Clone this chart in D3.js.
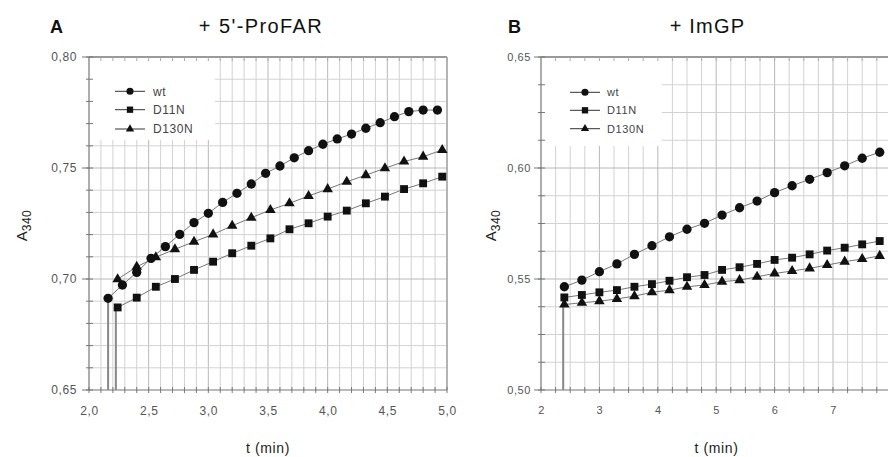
<!DOCTYPE html>
<html><head><meta charset="utf-8">
<script src="https://cdn.jsdelivr.net/npm/d3@7"></script>
<style>
html,body{margin:0;padding:0;background:#fff;}
svg{display:block;font-family:"Liberation Sans", Arial, Helvetica, sans-serif;}
</style></head><body>
<svg id="chart" width="888" height="457"></svg>
<script>
// ---------------- DATA ----------------
const seriesNames = ["wt", "D11N", "D130N"];

// Panel A (+ 5'-ProFAR)
const tA_wt = [2.16, 2.28, 2.40, 2.52, 2.64, 2.76, 2.88, 3.00, 3.12, 3.24, 3.36, 3.48,
               3.60, 3.72, 3.84, 3.96, 4.08, 4.20, 4.32, 4.44, 4.56, 4.68, 4.80, 4.92];
const aA_wt = [0.6913, 0.6973, 0.7030, 0.7093, 0.7146, 0.7201, 0.7254, 0.7296, 0.7345, 0.7386, 0.7428, 0.7476,
               0.7509, 0.7546, 0.7578, 0.7607, 0.7631, 0.7653, 0.7679, 0.7704, 0.7731, 0.7754, 0.7761, 0.7761];
const tA_mut = [2.24, 2.40, 2.56, 2.72, 2.88, 3.04, 3.20, 3.36, 3.52, 3.68, 3.84, 4.00, 4.16, 4.32, 4.48, 4.64, 4.80, 4.96];
const aA_D11N = [0.6872, 0.6916, 0.6965, 0.7000, 0.7041, 0.7078, 0.7116, 0.7150, 0.7183, 0.7224, 0.7251, 0.7281,
                 0.7308, 0.7341, 0.7371, 0.7405, 0.7431, 0.7461];
const aA_D130N = [0.6999, 0.7055, 0.7098, 0.7134, 0.7168, 0.7201, 0.7240, 0.7276, 0.7311, 0.7341, 0.7374, 0.7405,
                  0.7438, 0.7468, 0.7499, 0.7529, 0.7551, 0.7581];
const dropA = [2.16, 2.225, null];   // time where each trace rises from the axis floor
const xTicksA = [2.0, 2.5, 3.0, 3.5, 4.0, 4.5, 5.0];
const yTicksA = [0.65, 0.70, 0.75, 0.80];

// Panel B (+ ImGP)
const tB = [2.40, 2.70, 3.00, 3.30, 3.60, 3.90, 4.20, 4.50, 4.80, 5.10, 5.40, 5.70, 6.00, 6.30, 6.60, 6.90, 7.20, 7.50, 7.80];
const aB_wt = [0.5465, 0.5495, 0.5533, 0.5568, 0.5611, 0.5650, 0.5690, 0.5724, 0.5751, 0.5788, 0.5821, 0.5851,
               0.5889, 0.5920, 0.5949, 0.5979, 0.6010, 0.6044, 0.6071];
const aB_D11N = [0.5417, 0.5428, 0.5440, 0.5450, 0.5465, 0.5477, 0.5492, 0.5508, 0.5518, 0.5541, 0.5553, 0.5568,
                 0.5586, 0.5596, 0.5611, 0.5628, 0.5641, 0.5656, 0.5671];
const aB_D130N = [0.5385, 0.5393, 0.5400, 0.5410, 0.5423, 0.5440, 0.5450, 0.5465, 0.5473, 0.5488, 0.5495, 0.5510,
                  0.5525, 0.5536, 0.5548, 0.5563, 0.5578, 0.5590, 0.5604];
const dropB = [null, 2.38, null];
const xTicksB = [2, 3, 4, 5, 6, 7];
const yTicksB = [0.50, 0.55, 0.60, 0.65];

// ---------------- DRAW ----------------
const loc = d3.formatLocale({decimal: ",", thousands: ".", grouping: [3], currency: ["", ""]});
const svg = d3.select("#chart");
const shapes = [d3.symbolCircle, d3.symbolSquare, d3.symbolTriangle];
const markSize = [68, 62, 48];
const legSize = [40, 40, 30];

function panel(c) {
  const g = svg.append("g");
  const x = d3.scaleLinear().domain(c.xDomain).range(c.xRange);
  const y = d3.scaleLinear().domain(c.yDomain).range(c.yRange);
  const [x0, x1] = c.xDomain, [y0, y1] = c.yDomain;
  const xMinor = d3.range(Math.round((x1 - x0) / c.xStep) + 1).map(i => +(x0 + i * c.xStep).toFixed(4));
  const yMinor = d3.range(Math.round((y1 - y0) / c.yStep) + 1).map(i => +(y0 + i * c.yStep).toFixed(5));
  const isMaj = (v, ticks) => ticks.some(t => Math.abs(t - v) < 1e-6);
  const L = c.xRange[0], R = c.xRange[1], B = c.yRange[0], T = c.yRange[1];

  // grid
  g.append("g").selectAll("line").data(xMinor.slice(1)).join("line")
    .attr("x1", d => x(d)).attr("x2", d => x(d)).attr("y1", B).attr("y2", T)
    .attr("stroke", d => isMaj(d, c.xTicks) ? "#b8b8b8" : "#d2d2d2").attr("stroke-width", 1);
  g.append("g").selectAll("line").data(yMinor.slice(1)).join("line")
    .attr("x1", L).attr("x2", R).attr("y1", d => y(d)).attr("y2", d => y(d))
    .attr("stroke", d => isMaj(d, c.yTicks) ? "#b8b8b8" : "#d2d2d2").attr("stroke-width", 1);

  // legend background
  g.append("rect").attr("x", L + 1).attr("y", T + 1).attr("width", c.legW).attr("height", c.legH).attr("fill", "#fff");

  // frame
  g.append("line").attr("x1", L).attr("x2", R).attr("y1", T).attr("y2", T).attr("stroke", "#9a9a9a").attr("stroke-width", 2);
  if (c.rightBorder) g.append("line").attr("x1", R).attr("x2", R).attr("y1", T).attr("y2", B).attr("stroke", "#9a9a9a").attr("stroke-width", 1.2);
  g.append("line").attr("x1", L).attr("x2", R).attr("y1", B).attr("y2", B).attr("stroke", "#777").attr("stroke-width", 1.2);
  g.append("line").attr("x1", L).attr("x2", L).attr("y1", T).attr("y2", B).attr("stroke", "#777").attr("stroke-width", 1.2);

  // minor ticks
  g.append("g").selectAll("line").data(xMinor).join("line")
    .attr("x1", d => x(d)).attr("x2", d => x(d)).attr("y1", B - 3).attr("y2", B + 3).attr("stroke", "#777");
  g.append("g").selectAll("line").data(xMinor).join("line")
    .attr("x1", d => x(d)).attr("x2", d => x(d)).attr("y1", T).attr("y2", T + 4).attr("stroke", "#aaa");
  g.append("g").selectAll("line").data(yMinor).join("line")
    .attr("x1", L - 3).attr("x2", L + 4).attr("y1", d => y(d)).attr("y2", d => y(d)).attr("stroke", "#777");
  g.append("g").selectAll("line").data(c.yTicks).join("line")
    .attr("x1", L - 7).attr("x2", L).attr("y1", d => y(d)).attr("y2", d => y(d)).attr("stroke", "#777");

  // axis labels via d3 axes
  const xa = g.append("g").attr("transform", `translate(0,${B})`)
    .call(d3.axisBottom(x).tickValues(c.xTicks).tickFormat(c.xFmt).tickSize(0).tickPadding(c.xPad));
  xa.select(".domain").remove();
  xa.selectAll("text").attr("font-size", c.tickFont).attr("fill", "#555").attr("letter-spacing", c.tickLs)
    .attr("font-family", "Liberation Sans, Arial, sans-serif");
  const ya = g.append("g").attr("transform", `translate(${L},0)`)
    .call(d3.axisLeft(y).tickValues(c.yTicks).tickFormat(c.yFmt).tickSize(0).tickPadding(c.yPad));
  ya.select(".domain").remove();
  ya.selectAll("text").attr("font-size", c.tickFont).attr("fill", "#555").attr("letter-spacing", c.tickLs)
    .attr("font-family", "Liberation Sans, Arial, sans-serif");

  // data
  const line = d3.line().x(d => x(d[0])).y(d => y(d[1]));
  c.series.forEach((s, i) => {
    const pts = s.t.map((t, k) => [t, s.v[k]]);
    if (s.drop != null) {
      g.append("path").attr("d", line([[s.drop, y0], [s.drop, s.v[0] - 0.001], pts[0]]))
        .attr("fill", "none").attr("stroke", "#888").attr("stroke-width", 2);
    }
    g.append("path").attr("d", line(pts)).attr("fill", "none").attr("stroke", "#666").attr("stroke-width", 0.9);
  });
  c.series.forEach((s, i) => {
    const pts = s.t.map((t, k) => [t, s.v[k]]);
    g.append("g").selectAll("path").data(pts).join("path")
      .attr("transform", d => `translate(${x(d[0])},${y(d[1])})`)
      .attr("d", d3.symbol().type(shapes[i]).size(markSize[i]))
      .attr("fill", "#111");
  });

  // legend
  const lg = g.append("g");
  seriesNames.forEach((n, i) => {
    const yy = c.legY[i];
    lg.append("line").attr("x1", c.legX[0]).attr("x2", c.legX[1]).attr("y1", yy).attr("y2", yy)
      .attr("stroke", "#333").attr("stroke-width", 1);
    lg.append("path").attr("transform", `translate(${(c.legX[0] + c.legX[1]) / 2},${yy})`)
      .attr("d", d3.symbol().type(shapes[i]).size(legSize[i])).attr("fill", "#111");
    lg.append("text").attr("x", c.legX[2]).attr("y", yy).attr("dy", "0.36em")
      .attr("font-size", c.legFont).attr("fill", "#444").attr("letter-spacing", 0.6).text(n);
  });

  // titles
  g.append("text").attr("x", c.letterX).attr("y", 33).attr("font-size", 18).attr("font-weight", "bold")
    .attr("fill", "#111").text(c.letter);
  g.append("text").attr("x", c.titleX).attr("y", 33).attr("text-anchor", "middle").attr("font-size", 20)
    .attr("letter-spacing", c.titleLs).attr("fill", "#111").text(c.title);
  g.append("text").attr("x", (L + Math.min(R, 888)) / 2 + c.xLabDx).attr("y", 453).attr("text-anchor", "middle")
    .attr("font-size", 14).attr("letter-spacing", 0.6).attr("fill", "#222").text("t (min)");
  const yl = g.append("text").attr("transform", `translate(${c.yLabX},${(T + B) / 2 + 2}) rotate(-90)`)
    .attr("text-anchor", "middle").attr("font-size", 15).attr("fill", "#222");
  yl.append("tspan").text("A");
  yl.append("tspan").attr("font-size", 12).attr("dy", 4).attr("letter-spacing", 0.5).text("340");
}

panel({
  xDomain: [2.0, 5.0], yDomain: [0.65, 0.80], xRange: [89, 447], yRange: [390, 57],
  xStep: 0.1, yStep: 0.01, xTicks: xTicksA, yTicks: yTicksA,
  xFmt: loc.format(".1f"), yFmt: loc.format(".2f"), xPad: 16, yPad: 12, tickFont: 12, tickLs: 0.6,
  series: [
    {t: tA_wt, v: aA_wt, drop: dropA[0]},
    {t: tA_mut, v: aA_D11N, drop: dropA[1]},
    {t: tA_mut, v: aA_D130N, drop: dropA[2]}
  ],
  legW: 125, legH: 82, legX: [115, 145, 153], legY: [91.3, 109.7, 129], legFont: 12,
  letter: "A", letterX: 50, title: "+ 5'-ProFAR", titleX: 261, titleLs: 1.4,
  rightBorder: true, xLabDx: 0, yLabX: 27
});

panel({
  xDomain: [2, 8], yDomain: [0.50, 0.65], xRange: [541, 891.4], yRange: [390, 57],
  xStep: 0.25, yStep: 0.0125, xTicks: xTicksB, yTicks: yTicksB,
  xFmt: loc.format("d"), yFmt: loc.format(".2f"), xPad: 16, yPad: 10, tickFont: 11, tickLs: 0.6,
  series: [
    {t: tB, v: aB_wt, drop: dropB[0]},
    {t: tB, v: aB_D11N, drop: dropB[1]},
    {t: tB, v: aB_D130N, drop: dropB[2]}
  ],
  legW: 120, legH: 88, legX: [570, 600, 607], legY: [92.3, 110.3, 128.7], legFont: 11,
  letter: "B", letterX: 508, title: "+ ImGP", titleX: 707.5, titleLs: 1.2,
  rightBorder: false, xLabDx: 2, yLabX: 496
});
</script>
</body></html>
